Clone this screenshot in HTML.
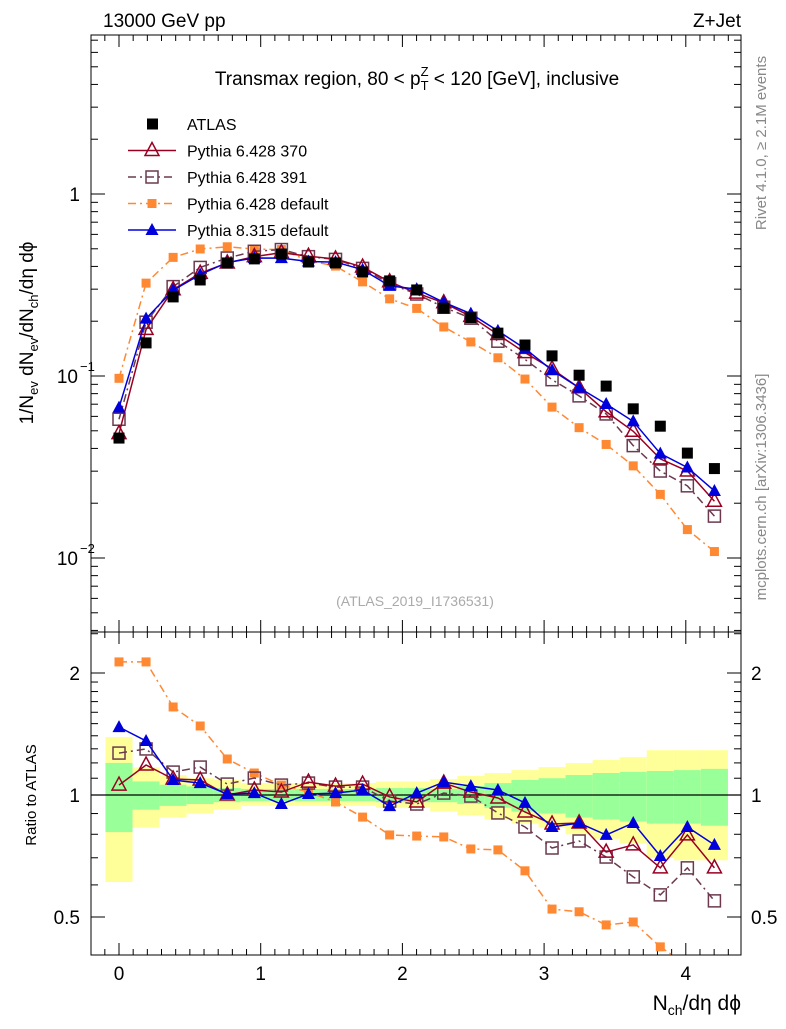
<!DOCTYPE html>
<html><head><meta charset="utf-8"><style>
body{margin:0;background:#fff;}
svg{font-family:"Liberation Sans",sans-serif;}
</style></head><body>
<svg id="c" width="786" height="1024" xmlns="http://www.w3.org/2000/svg"></svg>
<script>
const xVals=[0,0.191,0.382,0.573,0.764,0.955,1.146,1.337,1.528,1.719,1.91,2.101,2.292,2.483,2.674,2.865,3.056,3.247,3.438,3.629,3.82,4.011,4.202];
const atlas=[0.0456,0.152,0.272,0.337,0.418,0.44,0.468,0.423,0.418,0.373,0.333,0.297,0.236,0.209,0.172,0.148,0.129,0.101,0.088,0.066,0.053,0.0377,0.031];
const ratioP8=[1.471,1.359,1.089,1.070,1.006,1.011,0.950,1.006,1.011,1.029,0.939,1.011,1.076,1.052,1.029,0.956,0.834,0.853,0.797,0.853,0.707,0.834,0.753];
const ratio370=[1.058,1.186,1.095,1.089,1.0,1.029,1.017,1.076,1.052,1.064,0.989,0.961,1.070,1.017,0.983,0.908,0.848,0.853,0.723,0.753,0.661,0.797,0.661];
const ratio391=[1.269,1.299,1.139,1.172,1.064,1.101,1.058,1.070,1.046,1.046,0.966,0.950,1.011,0.994,0.903,0.834,0.740,0.770,0.703,0.628,0.567,0.661,0.548];
const ratioDef=[2.13,2.13,1.649,1.48,1.227,1.133,1.058,1.017,0.961,0.882,0.797,0.792,0.788,0.736,0.732,0.650,0.523,0.515,0.478,0.486,0.422,0.38,0.35];
const yellowHi=[1.39,1.17,1.12,1.10,1.09,1.07,1.07,1.07,1.07,1.07,1.08,1.08,1.095,1.114,1.133,1.152,1.172,1.199,1.22,1.24,1.29,1.29,1.29];
const greenHi=[1.20,1.08,1.06,1.05,1.04,1.035,1.035,1.035,1.035,1.035,1.04,1.04,1.035,1.052,1.07,1.089,1.10,1.12,1.133,1.14,1.146,1.152,1.16];
const yellowLo=[0.61,0.83,0.88,0.90,0.92,0.94,0.94,0.94,0.94,0.94,0.93,0.93,0.91,0.89,0.87,0.85,0.83,0.80,0.78,0.76,0.70,0.69,0.69];
const greenLo=[0.81,0.92,0.94,0.95,0.96,0.966,0.966,0.966,0.966,0.966,0.96,0.96,0.96,0.95,0.93,0.91,0.90,0.88,0.87,0.86,0.85,0.85,0.84];
const xTicks=[0,1,2,3,4];

const NS="http://www.w3.org/2000/svg";
const svg=document.getElementById('c');
const L=91,R=741,T1=35,B1=632,T2=632,B2=955;
const X=v=>119+v*141.7;
const Y1=v=>194-Math.log10(v)*182;
const Y2=v=>795-Math.log2(v)*122;
function el(tag,attrs,parent){const e=document.createElementNS(NS,tag);for(const k in attrs)e.setAttribute(k,attrs[k]);(parent||svg).appendChild(e);return e;}
function txt(s,x,y,size,anchor,fill,parent){const t=el('text',{x:x,y:y,'font-size':size,'text-anchor':anchor||'start',fill:fill||'#000'},parent);t.textContent=s;return t;}

const defs=el('defs',{});
const c1=el('clipPath',{id:'cp1'},defs);el('rect',{x:L,y:T1,width:R-L,height:B1-T1},c1);
const c2=el('clipPath',{id:'cp2'},defs);el('rect',{x:L,y:T2,width:R-L,height:B2-T2},c2);

const gBand=el('g',{'clip-path':'url(#cp2)'});


xVals.forEach((v,i)=>{
  const x0=i==0?X(v)-(X(xVals[1])-X(v))/2:(X(xVals[i-1])+X(v))/2;
  const x1=i==xVals.length-1?X(v)+(X(v)-X(xVals[i-1]))/2:(X(xVals[i+1])+X(v))/2;
  const y=el('rect',{x:x0,y:Y2(yellowHi[i]),width:x1-x0,height:Y2(yellowLo[i])-Y2(yellowHi[i]),fill:'#ffff99'},gBand);
  
  
  const g=el('rect',{x:x0,y:Y2(greenHi[i]),width:x1-x0,height:Y2(greenLo[i])-Y2(greenHi[i]),fill:'#99ff99'},gBand);
  
  
});
el('line',{x1:L,x2:R,y1:Y2(1),y2:Y2(1),stroke:'#000','stroke-width':1.2});

el('rect',{x:L,y:T1,width:R-L,height:B1-T1,fill:'none',stroke:'#000','stroke-width':1});
el('rect',{x:L,y:T2,width:R-L,height:B2-T2,fill:'none',stroke:'#000','stroke-width':1});

for(let v=-0.1;v<=4.4;v+=0.1){const vv=Math.round(v*10)/10;const big=Math.abs(vv-Math.round(vv))<1e-6;const len=big?12:6;const x=X(vv);if(x<L||x>R)continue;
 el('line',{x1:x,x2:x,y1:B1,y2:B1-len,stroke:'#000'});el('line',{x1:x,x2:x,y1:T1,y2:T1+len,stroke:'#000'});
 el('line',{x1:x,x2:x,y1:B2,y2:B2-len,stroke:'#000'});el('line',{x1:x,x2:x,y1:T2,y2:T2+len,stroke:'#000'});}
xTicks.forEach(v=>{const t=txt(String(v),X(v),980,19,'middle');});

for(let d=-3;d<=0;d++){for(let m=1;m<10;m++){const v=m*Math.pow(10,d);const y=Y1(v);if(y<T1||y>B1)continue;const len=m==1?14:7;
 el('line',{x1:L,x2:L+len,y1:y,y2:y,stroke:'#000'});el('line',{x1:R,x2:R-len,y1:y,y2:y,stroke:'#000'});}}
txt('1',80,201,19,'end');
txt('10',78,383,19,'end');txt('−1',80,371,13,'start');
txt('10',78,565,19,'end');txt('−2',80,553,13,'start');

[0.4,0.5,0.6,0.7,0.8,0.9,1,1.1,1.2,1.3,1.4,1.5,1.6,1.7,1.8,1.9,2,2.5].forEach(v=>{const y=Y2(v);if(y<T2||y>B2)return;const len=(v==1||v==2||v==0.5)?14:7;
 el('line',{x1:L,x2:L+len,y1:y,y2:y,stroke:'#000'});el('line',{x1:R,x2:R-len,y1:y,y2:y,stroke:'#000'});});
txt('2',80,680,19,'end');txt('1',80,802,19,'end');txt('0.5',80,924,19,'end');
txt('2',751,680,19,'start');txt('1',751,802,19,'start');txt('0.5',751,924,19,'start');

const series=[
 {name:'pythia-6428-default',r:ratioDef,color:'#ff8833',dash:'8,4,2,4',mk:'fsq'},
 {name:'pythia-6428-391',r:ratio391,color:'#6b3a4e',dash:'8,4,2,4',mk:'osq'},
 {name:'pythia-6428-370',r:ratio370,color:'#990022',dash:'',mk:'otri'},
 {name:'pythia-8315-default',r:ratioP8,color:'#0000dd',dash:'',mk:'ftri'}];
function marker(mk,x,y,color,g){
 if(mk=='fsq')return el('rect',{x:x-4.5,y:y-4.5,width:9,height:9,fill:color},g);
 if(mk=='osq')return el('rect',{x:x-6,y:y-6,width:12,height:12,fill:'#fff','fill-opacity':0,stroke:color,'stroke-width':1.5},g);
 if(mk=='otri')return el('polygon',{points:`${x},${y-8} ${x-7},${y+5} ${x+7},${y+5}`,fill:'none',stroke:color,'stroke-width':1.5},g);
 return el('polygon',{points:`${x},${y-7} ${x-6.5},${y+5} ${x+6.5},${y+5}`,fill:color},g);}
series.forEach(s=>{
 const n=Math.min(s.r.length,xVals.length);
 const gm=el('g',{'clip-path':'url(#cp1)'});
 
 
 const gr=el('g',{'clip-path':'url(#cp2)'});
 
 
 let p1='',p2='';
 for(let i=0;i<n;i++){p1+=(i?'L':'M')+X(xVals[i])+','+Y1(s.r[i]*atlas[i]);p2+=(i?'L':'M')+X(xVals[i])+','+Y2(s.r[i]);}
 el('path',{d:p1,fill:'none',stroke:s.color,'stroke-width':1.5,'stroke-dasharray':s.dash},gm);
 el('path',{d:p2,fill:'none',stroke:s.color,'stroke-width':1.5,'stroke-dasharray':s.dash},gr);
 for(let i=0;i<n;i++){
  const m1=marker(s.mk,X(xVals[i]),Y1(s.r[i]*atlas[i]),s.color,gm);
  
  
  const m2=marker(s.mk,X(xVals[i]),Y2(s.r[i]),s.color,gr);
  
  
 }
});
const ga=el('g',{'clip-path':'url(#cp1)'});


xVals.forEach((v,i)=>{const r=el('rect',{x:X(v)-5.5,y:Y1(atlas[i])-5.5,width:11,height:11,fill:'#000'},ga);
 
 });

const lg=el('g',{});


const leg=[['ATLAS','#000','','atlas'],['Pythia 6.428 370','#990022','','otri'],['Pythia 6.428 391','#6b3a4e','8,4,2,4','osq'],['Pythia 6.428 default','#ff8833','8,4,2,4','fsq'],['Pythia 8.315 default','#0000dd','','ftri']];
leg.forEach((e,i)=>{const y=124+i*26.5;
 if(e[3]=='atlas'){el('rect',{x:147,y:y-5.5,width:11,height:11,fill:'#000'},lg);}
 else{el('line',{x1:128,x2:176,y1:y,y2:y,stroke:e[1],'stroke-width':1.5,'stroke-dasharray':e[2]},lg);marker(e[3],152,y,e[1],lg);}
 const t=txt(e[0],187,y+6,16,'start','#000',lg);});

txt('13000 GeV pp',103,27,19,'start');
txt('Z+Jet',741,27,19,'end');
const ti=el('text',{x:417,y:85,'font-size':19,'text-anchor':'middle'});
ti.innerHTML='Transmax region, 80 &lt; p<tspan font-size="13" dy="5">T</tspan><tspan font-size="13" dy="-14" dx="-8">Z</tspan><tspan dy="9"> &lt; 120 [GeV], inclusive</tspan>';


txt('(ATLAS_2019_I1736531)',415,606,14,'middle','#aaaaaa');
const yl=el('text',{transform:'translate(33,333) rotate(-90)','font-size':19,'text-anchor':'middle'});
yl.innerHTML='1/N<tspan font-size="13" dy="5">ev</tspan><tspan dy="-5"> dN</tspan><tspan font-size="13" dy="5">ev</tspan><tspan dy="-5">/dN</tspan><tspan font-size="13" dy="5">ch</tspan><tspan dy="-5">/dη dϕ</tspan>';


const rl=txt('Ratio to ATLAS',0,0,15,'middle');rl.setAttribute('transform','translate(36,795) rotate(-90)');


const xl=el('text',{x:741,y:1010,'font-size':21,'text-anchor':'end'});
xl.innerHTML='N<tspan font-size="14" dy="5">ch</tspan><tspan dy="-5">/dη dϕ</tspan>';


const rv=txt('Rivet 4.1.0, ≥ 2.1M events',0,0,15,'middle','#888');rv.setAttribute('transform','translate(766,143) rotate(-90)');
const mc=txt('mcplots.cern.ch [arXiv:1306.3436]',0,0,15,'middle','#888');mc.setAttribute('transform','translate(766,487) rotate(-90)');
</script>
</body></html>
